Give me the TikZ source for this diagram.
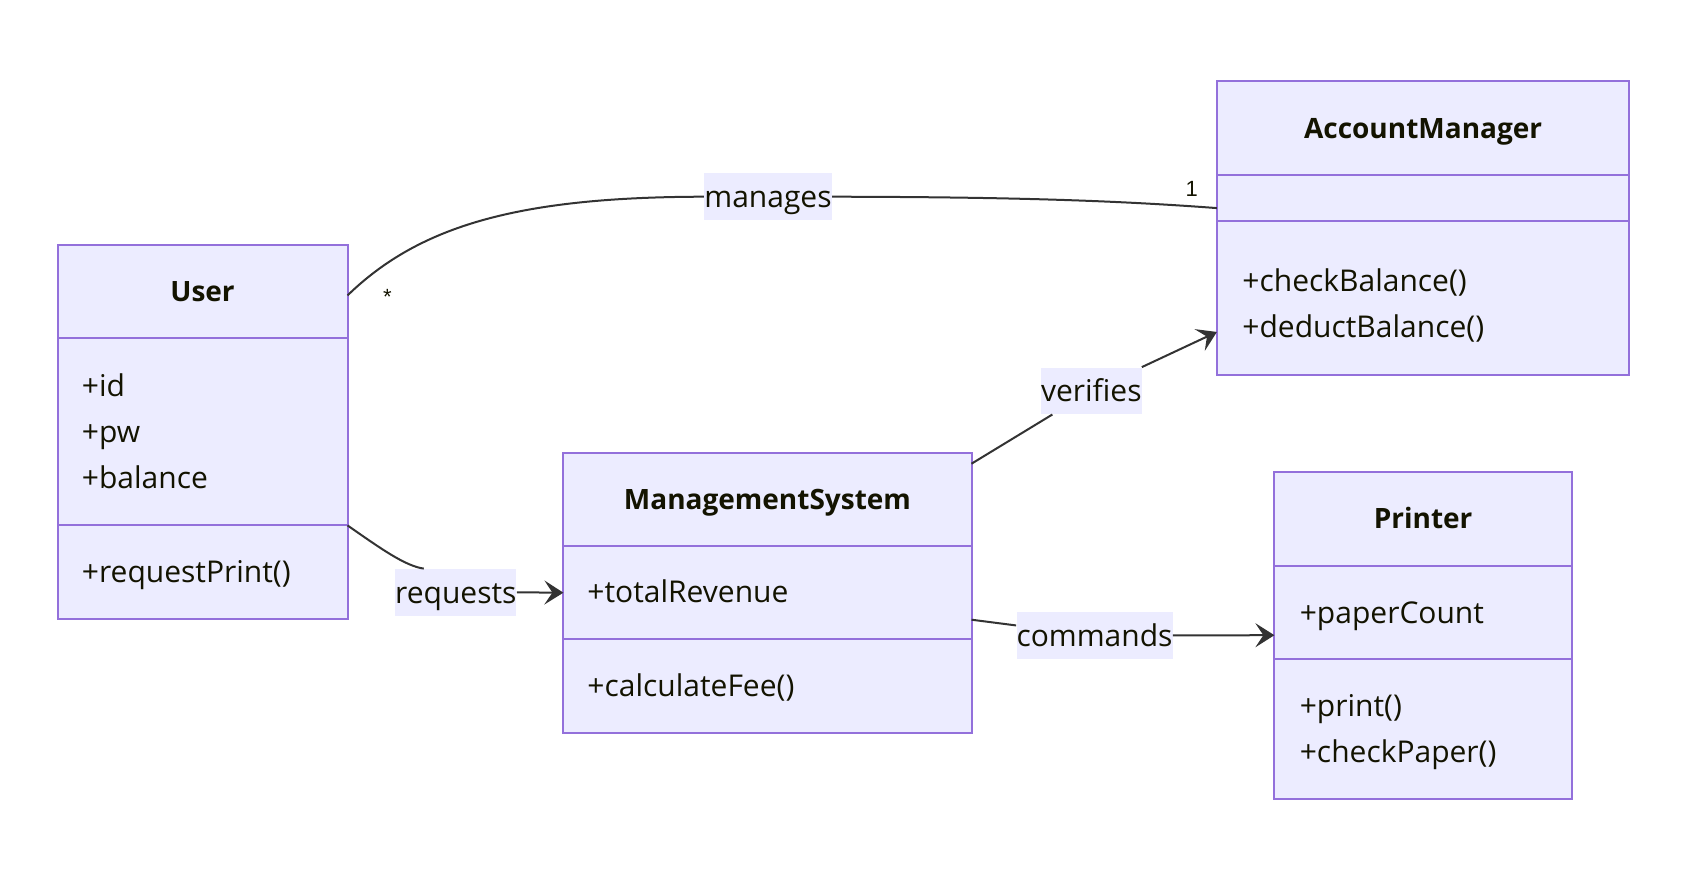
\documentclass[tikz,border=0pt]{standalone}
\usepackage{fontspec}
\setmainfont{Open Sans}
\newfontfamily\cardfont{Liberation Sans}
\usepackage{xcolor}
\usepackage{tikz}
\usetikzlibrary{positioning, calc, arrows.meta}

\definecolor{classfill}{HTML}{ECECFF}
\definecolor{classborder}{HTML}{9370DB}
\definecolor{linecol}{HTML}{333333}
\definecolor{textcol}{HTML}{131300}

\begin{document}
\begin{tikzpicture}[x=0.5pt, y=-0.5pt,
    compart/.style={draw=classborder, fill=classfill, line width=1pt, inner sep=0pt, outer sep=0pt, anchor=north west},
    classtitle/.style={font=\fontsize{14}{17}\selectfont\bfseries, text=textcol, inner sep=0pt, text height=10.1pt, text depth=0pt},
    member/.style={anchor=west, font=\fontsize{15}{18}\selectfont, text=textcol, inner sep=0pt, text height=10.8pt, text depth=0pt},
    assoc/.style={draw=linecol, line width=1pt},
    arr/.style={assoc, -{Stealth[length=9.5pt, width=12pt, inset=4pt]}},
    edgelabel/.style={fill=classfill, inner xsep=0pt, inner ysep=6.25pt, text height=10.8pt, text depth=0pt, font=\fontsize{15}{18}\selectfont, text=textcol},
    card/.style={font=\cardfont\fontsize{11}{13}\selectfont, text=textcol, inner sep=0pt}
]
    \useasboundingbox (0,0) rectangle (1702,878);

    % User
    \node[compart, minimum width=145pt, minimum height=46.15pt] (userhead) at (57.5,245.3) {};
    \node[compart, minimum width=145pt, minimum height=93.9pt, below=0pt of userhead] (userattr) {};
    \node[compart, minimum width=145pt, minimum height=46.65pt, below=0pt of userattr] (usermeth) {};
    \node[classtitle] (usertitle) at (userhead) {User};
    \node[member] (userid) at (81.5,385.4) {+id};
    \node[member] (userpw) at (81.5,432) {+pw};
    \node[member] (userbal) at (81.5,477.6) {+balance};
    \node[member] (userreq) at (81.5,572) {+requestPrint()};

    % AccountManager
    \node[compart, minimum width=206.2pt, minimum height=46.7pt] (amhead) at (1216.9,81.4) {};
    \node[compart, minimum width=206.2pt, minimum height=23.3pt, below=0pt of amhead] (amattr) {};
    \node[compart, minimum width=206.2pt, minimum height=76.55pt, below=0pt of amattr] (ammeth) {};
    \node[classtitle] (amtitle) at (amhead) {AccountManager};
    \node[member] (amcheck) at (1242,281.1) {+checkBalance()};
    \node[member] (amdeduct) at (1242,326.7) {+deductBalance()};

    % ManagementSystem
    \node[compart, minimum width=204.05pt, minimum height=46.65pt] (mshead) at (563.4,452.7) {};
    \node[compart, minimum width=204.05pt, minimum height=46.7pt, below=0pt of mshead] (msattr) {};
    \node[compart, minimum width=204.05pt, minimum height=46.65pt, below=0pt of msattr] (msmeth) {};
    \node[classtitle] (mstitle) at (mshead) {ManagementSystem};
    \node[member] (msrev) at (587,591.6) {+totalRevenue};
    \node[member] (msfee) at (587,686) {+calculateFee()};

    % Printer
    \node[compart, minimum width=148.7pt, minimum height=46.65pt] (prhead) at (1274.4,472.2) {};
    \node[compart, minimum width=148.7pt, minimum height=46.7pt, below=0pt of prhead] (prattr) {};
    \node[compart, minimum width=148.7pt, minimum height=70.05pt, below=0pt of prattr] (prmeth) {};
    \node[classtitle] (prtitle) at (prhead) {Printer};
    \node[member] (prpaper) at (1299.4,612.2) {+paperCount};
    \node[member] (prprint) at (1299.4,705.6) {+print()};
    \node[member] (prcheck) at (1299.4,751.2) {+checkPaper()};

    % Edge labels
    \node[edgelabel] (lblmanages) at (768,196.7) {manages};
    \node[edgelabel] (lblrequests) at (455.8,592.3) {requests};
    \node[edgelabel] (lblverifies) at (1091.3,390.8) {verifies};
    \node[edgelabel] (lblcommands) at (1094.5,635.5) {commands};

    % Multiplicities
    \node[card] (cardmany) at (387.3,297) {*};
    \node[card] (cardone) at (1191.8,189) {1};

    % User -- AccountManager
    \draw[assoc] ($(userhead.east)+(0,4)$) .. controls (420,225) and (520,197) .. (lblmanages.west);
    \draw[assoc] (lblmanages.east) .. controls (1000,197) and (1110,200) .. ($(amattr.west)+(0,10)$);

    % User -> ManagementSystem
    \draw[assoc] (userattr.south east) .. controls (380,548) and (405,566) .. ($(lblrequests.north west)+(29,0)$);
    \draw[arr] (lblrequests.east) -- (msattr.west);

    % ManagementSystem -> AccountManager
    \draw[assoc] ($(mshead.north east)+(0,11)$) -- (lblverifies);
    \draw[arr] (lblverifies) -- ($(ammeth.west)+(0,34)$);

    % ManagementSystem -> Printer
    \draw[assoc] ($(msattr.east)+(0,27)$) -- (lblcommands);
    \draw[arr] (lblcommands) -- ($(prattr.west)+(0,23)$);
\end{tikzpicture}
\end{document}
